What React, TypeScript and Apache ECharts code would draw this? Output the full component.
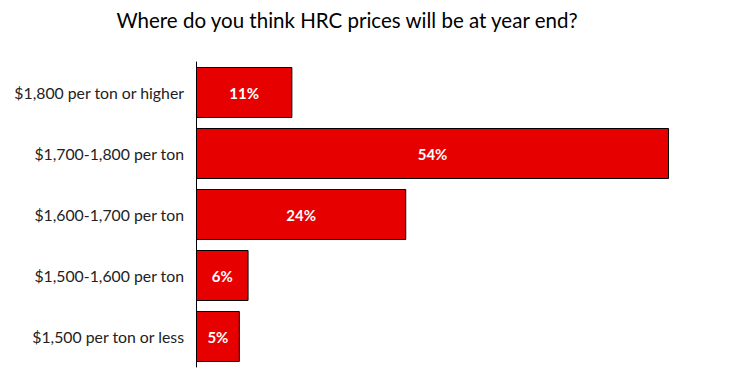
import React, { useEffect, useRef } from "react";
import * as echarts from "echarts";

const categories = [
  "$1,800 per ton or higher",
  "$1,700-1,800 per ton",
  "$1,600-1,700 per ton",
  "$1,500-1,600 per ton",
  "$1,500 per ton or less",
];
const values = [11, 54, 24, 6, 5];
const titleText = "Where do you think HRC prices will be at year end?";

export default function App() {
  const ref = useRef<HTMLDivElement>(null);
  useEffect(() => {
    const chart = echarts.init(ref.current!, null, { renderer: "svg" });
    chart.setOption({
      animation: false,
      backgroundColor: "#ffffff",
      title: {
        text: titleText,
        left: 342,
        top: 4,
        textAlign: "center",
        textStyle: { fontFamily: "Lato", fontSize: 20.5, fontWeight: "normal", color: "#000" },
      },
      grid: { left: 196, top: 62, width: 525.6, height: 305, containLabel: false },
      xAxis: {
        type: "value",
        min: 0,
        max: 60,
        show: false,
      },
      yAxis: {
        type: "category",
        data: categories,
        inverse: true,
        axisLine: { show: true, lineStyle: { color: "#000", width: 1 } },
        axisTick: { show: false },
        axisLabel: { fontFamily: "Lato", fontSize: 15.8, color: "#222", margin: 12 },
      },
      series: [
        {
          type: "bar",
          data: values,
          barCategoryGap: "16.4%",
          itemStyle: { color: "#E60000", borderColor: "#000", borderWidth: 1 },
          label: {
            show: true,
            position: "inside",
            formatter: "{c}%",
            color: "#fff",
            fontFamily: "Lato",
            fontWeight: "bold",
            fontSize: 15,
          },
        },
      ],
    });
    return () => chart.dispose();
  }, []);
  return (
    <div
      ref={ref}
      style={{ position: "absolute", left: 0, top: 0, width: 732, height: 379 }}
    />
  );
}
